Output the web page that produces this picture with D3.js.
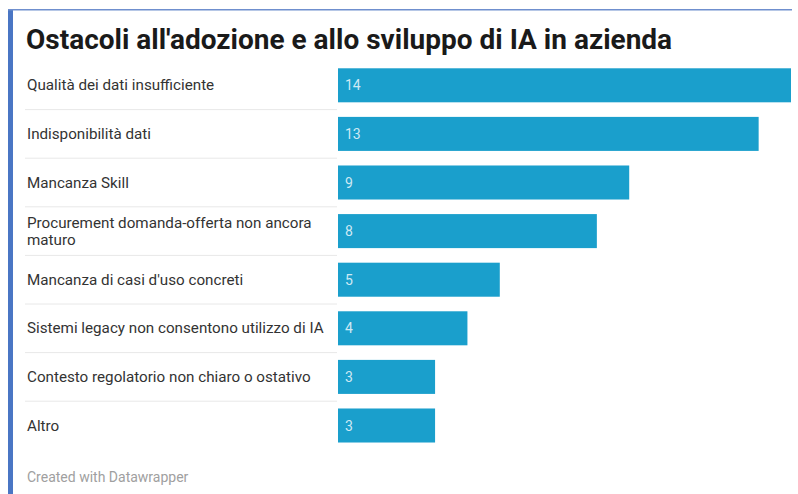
<html>
<head>
    <meta charset="utf-8">
    <style>
        body { margin: 0; background: #fff; }
        text { font-family: Roboto, "Noto Sans", sans-serif; }
    </style>
    <script src="https://cdn.jsdelivr.net/npm/d3@7"></script>
</head>
<body>
    <svg id="container" width="798" height="494"></svg>
</body>
<script>
    // dati
    let categories = [
        ["Qualità dei dati insufficiente"],
        ["Indisponibilità dati"],
        ["Mancanza Skill"],
        ["Procurement domanda-offerta non ancora", "maturo"],
        ["Mancanza di casi d'uso concreti"],
        ["Sistemi legacy non consentono utilizzo di IA"],
        ["Contesto regolatorio non chiaro o ostativo"],
        ["Altro"]
    ]
    let values = [14, 13, 9, 8, 5, 4, 3, 3]
    let title = "Ostacoli all'adozione e allo sviluppo di IA in azienda"
    let credit = "Created with Datawrapper"

    let svg = d3.select("#container")

    // cornice blu
    svg.append("rect").attr("x", 8).attr("y", 9).attr("width", 790).attr("height", 485)
        .attr("fill", "#fff")
    svg.append("rect").attr("x", 8).attr("y", 9).attr("width", 5).attr("height", 485)
        .attr("fill", "#4a76c4")
    svg.append("rect").attr("x", 8).attr("y", 9).attr("width", 784).attr("height", 1.5)
        .attr("fill", "#6f8fce")

    svg.append("text")
        .attr("x", 26).attr("y", 49)
        .attr("font-size", 28).attr("font-weight", "bold")
        .attr("fill", "#1a1a1a")
        .text(title)

    let data = categories.map((c, i) => ({ label: c, value: values[i], key: i }))

    let x = d3.scaleLinear().domain([0, 14]).range([338, 791])
    let y = d3.scaleBand()
        .domain(data.map(d => d.key))
        .range([61, 61 + 48.6 * 8])
        .paddingInner(0.3)
        .paddingOuter(0.15)

    let body = svg.append("g")

    // linee separatrici
    body.selectAll(".sep")
        .data(data.slice(1))
        .enter()
        .append("line")
        .attr("x1", 25).attr("x2", 337)
        .attr("y1", d => y(d.key) - y.step() * y.paddingInner() / 2)
        .attr("y2", d => y(d.key) - y.step() * y.paddingInner() / 2)
        .attr("stroke", "#e8e8e8")
        .attr("stroke-width", 1)

    let rows = body.selectAll(".row")
        .data(data)
        .enter()
        .append("g")

    rows.append("rect")
        .attr("x", x(0))
        .attr("y", d => y(d.key))
        .attr("width", d => x(d.value) - x(0))
        .attr("height", y.bandwidth())
        .attr("fill", "#1a9fcc")

    rows.append("text")
        .attr("x", x(0) + 7)
        .attr("y", d => y(d.key) + y.bandwidth() / 2 + 5)
        .attr("font-size", 14)
        .attr("fill", "#cfe9f4")
        .text(d => d.value)

    rows.append("text")
        .attr("x", 27)
        .attr("y", d => y(d.key) + y.bandwidth() / 2 + 5 - (d.label.length - 1) * 8.5)
        .attr("font-size", 15.2)
        .attr("fill", "#333")
        .selectAll("tspan")
        .data(d => d.label)
        .enter()
        .append("tspan")
        .attr("x", 27)
        .attr("dy", (d, i) => i == 0 ? 0 : 17)
        .text(d => d)

    svg.append("text")
        .attr("x", 27).attr("y", 482)
        .attr("font-size", 14)
        .attr("fill", "#a0a0a0")
        .text(credit)
</script>
</html>
